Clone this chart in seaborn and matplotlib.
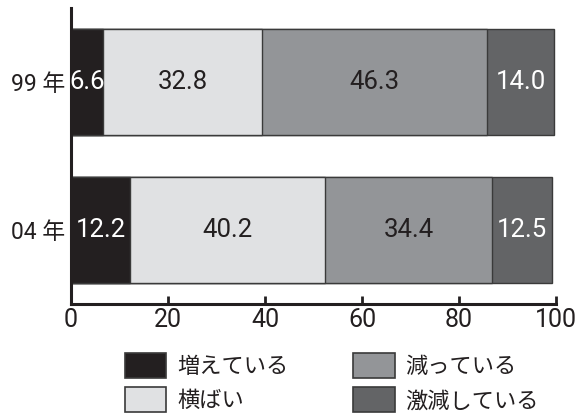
import numpy as np
import pandas as pd
import seaborn as sns
import matplotlib
matplotlib.use("Agg")
import matplotlib.pyplot as plt
from matplotlib.patches import Patch

sns.set_theme(style="white")
plt.rcParams["font.family"] = ["Noto Sans CJK JP", "DejaVu Sans"]

# Survey answers per year (percent)
years = ["99 年", "04 年"]
categories = ["増えている", "横ばい", "減っている", "激減している"]
values_99 = [6.6, 32.8, 46.3, 14.0]
values_04 = [12.2, 40.2, 34.4, 12.5]

fill_colors = ["#231f20", "#e0e1e3", "#939598", "#636466"]
text_colors = ["white", "#231f20", "#231f20", "white"]

num_font = ["Roboto", "Noto Sans CJK JP"]

df = pd.DataFrame([values_99, values_04], index=years, columns=categories)
cum = df.cumsum(axis=1)

fig = plt.figure(figsize=(5.87, 4.16), dpi=100)
ax = fig.add_axes([0.121, 0.269, 0.826, 0.712])

# stacked bars: draw cumulative totals from the widest series down
for i in range(len(categories) - 1, -1, -1):
    d = pd.DataFrame({"year": years, "total": cum.iloc[:, i].values})
    sns.barplot(data=d, x="total", y="year", order=years, orient="h",
                color=fill_colors[i], saturation=1, width=0.72,
                edgecolor="#3a3a3a", linewidth=1.0, ax=ax)

# value labels centred in each segment
for r, year in enumerate(years):
    left = 0.0
    for i, cat in enumerate(categories):
        v = df.loc[year, cat]
        ax.text(left + v / 2, r, f"{v:.1f}", ha="center",
                va="center", color=text_colors[i], fontsize=18.5,
                family=num_font)
        left += v

ax.set_xlim(0, 100)
ax.set_ylim(1.5, -0.5)
ax.set_xlabel("")
ax.set_ylabel("")
ax.set_xticks([0, 20, 40, 60, 80, 100])
ax.set_xticklabels(["0", "20", "40", "60", "80", "100"], family=num_font,
                   fontsize=18, color="#231f20")
ax.tick_params(axis="x", direction="in", length=6, width=2, color="#231f20",
               pad=3, bottom=True)
ax.tick_params(axis="y", length=0, pad=4, labelsize=16.5, labelcolor="#231f20")
for lab in ax.get_yticklabels():
    lab.set_family(num_font)

for side in ["top", "right"]:
    ax.spines[side].set_visible(False)
for side in ["left", "bottom"]:
    ax.spines[side].set_color("#231f20")
    ax.spines[side].set_linewidth(2.2)

handles = [Patch(facecolor=c, edgecolor="#3a3a3a", linewidth=1.2)
           for c in fill_colors]
fig.legend(handles, categories, ncol=2, loc="upper left",
           bbox_to_anchor=(0.213, 0.151), frameon=False, fontsize=16,
           handlelength=1.86, handleheight=1.36, handletextpad=0.5,
           columnspacing=2.9, labelspacing=0.4, borderaxespad=0,
           borderpad=0, labelcolor="#231f20")

fig.savefig("out.png", dpi=100, facecolor="white")
